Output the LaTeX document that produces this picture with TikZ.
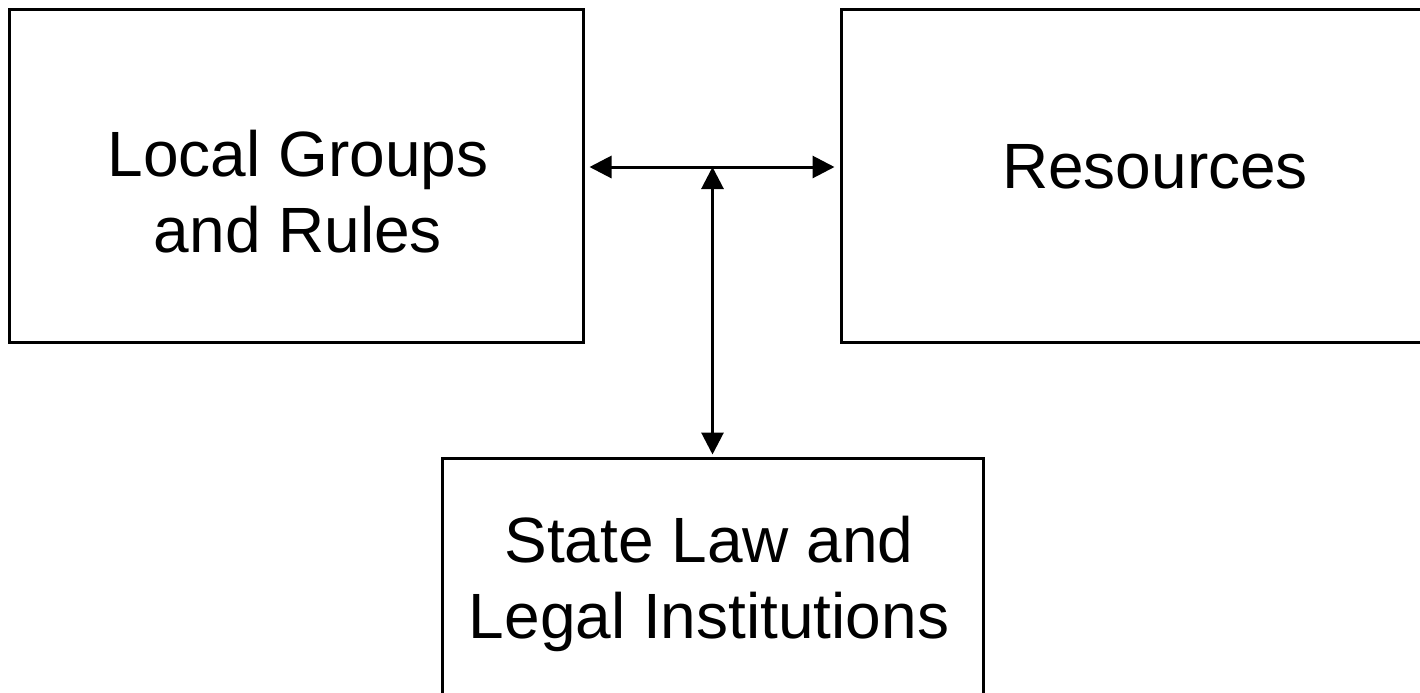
\documentclass[tikz,border=0pt]{standalone}
\usepackage{fontspec}
\setmainfont{Liberation Sans}
\usetikzlibrary{arrows.meta}

\tikzset{
  box/.style={draw, line width=1.5pt, rectangle, inner sep=0pt},
  lbl/.style={align=center, font=\fontsize{32}{38}\selectfont},
  link/.style={line width=1.5pt, {Triangle[length=11pt,width=11pt]}-{Triangle[length=11pt,width=11pt]}}
}

\begin{document}
\begin{tikzpicture}[x=0.5pt,y=-0.5pt]
        \clip (0,0) rectangle (1420,692);
        \node[box, minimum width=287pt, minimum height=166.5pt] (groups) at (296,175.5) {};
        \node[box, minimum width=314.5pt, minimum height=166.5pt] (res) at (1155.5,175.5) {};
        \node[box, minimum width=270.5pt, minimum height=136pt] (state) at (712.5,594) {};
        \node[lbl] (groupstxt) at (298,192) {Local Groups\\and Rules};
        \node[lbl] (restxt) at (1155,167) {Resources};
        \node[lbl] (statetxt) at (709,584) {State Law and\\Legal Institutions};
        \coordinate (hub) at (state.north |- 0,167);
        \draw[link, shorten <=2.5pt, shorten >=2.5pt] (groups.east |- hub) -- (res.west |- hub);
        \draw[link, shorten >=1pt] (hub) -- (state.north);
\end{tikzpicture}
\end{document}
